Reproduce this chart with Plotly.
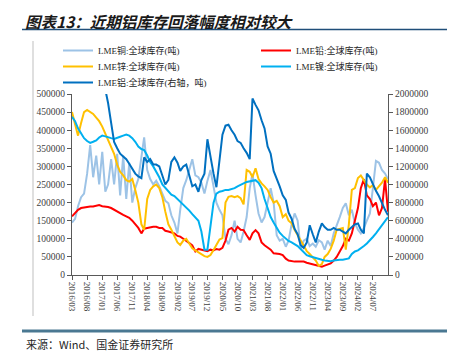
import pandas as pd
import plotly.graph_objects as go

months = pd.date_range("2016-03-01", periods=106, freq="MS")

tick_labels = ["2016/03", "2016/08", "2017/01", "2017/06", "2017/11", "2018/04", "2018/09",
               "2019/02", "2019/07", "2019/12", "2020/05", "2020/10", "2021/03", "2021/08",
               "2022/01", "2022/06", "2022/11", "2023/04", "2023/09", "2024/02", "2024/07"]

# LME copper stocks (thousand t, left axis)
copper = [145, 155, 190, 215, 225, 280, 359, 270, 330, 250, 340, 230, 250, 320, 250, 335, 220, 330, 210, 310, 200, 240, 265, 330, 380, 290,
          265, 250, 260, 245, 225, 205, 198, 165, 145, 115, 180, 240, 262, 290, 320, 275, 270, 255, 225, 260, 290, 245, 200, 180, 165,
          100, 85, 110, 150, 100, 90, 120, 160, 240, 280, 220, 170, 145, 160, 200, 240, 200, 110, 95, 100, 78, 95, 140, 170, 150,
          72, 95, 100, 80, 87, 78, 96, 90, 70, 95, 80, 115, 135, 160, 185, 198, 165, 180, 143, 125, 115, 130, 150, 170, 240, 315, 310, 290, 280, 265]

# LME lead stocks (thousand t, left axis)
lead = [162, 172, 180, 185, 187, 188, 189, 189, 190, 193, 190, 190, 188, 185, 180, 176, 172, 166, 162, 158, 150, 140, 130, 115, 128, 130,
        132, 133, 133, 130, 130, 122, 120, 118, 115, 108, 106, 100, 95, 88, 82, 65, 72, 70, 68, 66, 70, 68, 72, 70, 75,
        95, 125, 130, 120, 133, 125, 124, 110, 97, 115, 124, 115, 90, 82, 75, 70, 60, 60, 58, 55, 45, 40, 38, 37, 37,
        37, 37, 34, 32, 30, 28, 26, 23, 26, 30, 32, 40, 50, 65, 80, 100, 95, 115, 150, 185, 240, 265, 220, 210, 190, 200, 165, 185, 265, 175]

# LME zinc stocks (thousand t, left axis)
zinc = [450, 420, 385, 420, 450, 456, 450, 445, 435, 425, 410, 390, 375, 355, 335, 305, 285, 275, 262, 258, 265, 235, 200, 140, 125, 210,
        235, 245, 250, 240, 215, 175, 140, 125, 105, 90, 83, 95, 100, 88, 74, 68, 62, 58, 52, 50, 55, 69, 85, 98, 102,
        200, 216, 218, 215, 218, 212, 195, 290, 285, 270, 295, 265, 253, 245, 235, 215, 200, 205, 190, 160, 168, 150, 143, 125, 110,
        92, 78, 66, 58, 48, 40, 25, 30, 50, 58, 72, 95, 125, 128, 130, 70, 140, 235, 240, 268, 275, 262, 250, 242, 248, 235, 245, 255, 270, 255]

# LME nickel stocks (thousand t, left axis)
nickel = [437, 425, 405, 390, 378, 370, 365, 368, 372, 380, 385, 383, 380, 378, 376, 380, 382, 385, 388, 385, 378, 368, 355, 348, 345, 330,
          312, 300, 285, 270, 250, 240, 232, 222, 218, 210, 200, 192, 185, 178, 168, 158, 150, 120, 70, 70, 140, 200, 225, 230, 232,
          235, 235, 237, 240, 245, 250, 253, 257, 258, 260, 262, 255, 240, 210, 185, 160, 145, 130, 117, 108, 100, 94, 90, 85, 80,
          72, 62, 55, 52, 50, 47, 45, 42, 40, 38, 38, 40, 42, 42, 42, 44, 46, 58, 65, 68, 73, 80, 87, 95, 105, 115, 127, 135, 148, 160]

# LME aluminium stocks (thousand t, right axis)
aluminium = [2650, 2600, 2550, 2500, 2450, 2400, 2350, 2300, 2250, 2200, 2150, 2050,
             1900, 1680, 1470, 1400, 1340, 1310, 1280, 1230, 1180, 1120, 1090, 1070, 1300, 1250,
             1280, 1220, 1220, 1200, 1100, 1000, 1050, 1250, 1300, 1240, 1150, 1200, 1220, 1100, 980, 1000, 920, 1050, 1120, 1500, 1300, 1120, 970, 1250, 1550,
             1650, 1660, 1600, 1550, 1480, 1460, 1400, 1350, 1280, 1950, 1880, 1820, 1710, 1620, 1420, 1340, 1150, 1070, 980, 880, 830, 690, 620, 510, 450,
             330, 300, 360, 550, 450, 360, 480, 570, 530, 500, 500, 520, 500, 500, 480, 460, 500, 530, 560, 570, 500, 460, 1120, 1080, 1000, 930, 870, 790, 720, 660]

# (name, values, colour, axis, legend column, legend row)
series = [
    ("LME铜:全球库存(吨)", copper, "#9DC3E6", "y", 0, 0),
    ("LME铅:全球库存(吨)", lead, "#FF0000", "y", 1, 0),
    ("LME锌:全球库存(吨)", zinc, "#FFC000", "y", 0, 1),
    ("LME镍:全球库存(吨)", nickel, "#00B0F0", "y", 1, 1),
    ("LME铝:全球库存(右轴，吨)", aluminium, "#0070C0", "y2", 0, 2),
]

# page body has an 8px margin: work in screen pixels and convert
OFF = 8
FW, FH = 455 - OFF, 359 - OFF
L, R, T, B = 72 - OFF, 388 - OFF, 94 - OFF, 275 - OFF
W, H = R - L, B - T
def px(sx):
    return (sx - OFF - L) / W
def py(sy):
    return (B - (sy - OFF)) / H

axis_font = dict(family="Liberation Serif, Noto Sans CJK SC", size=9.5, color="#404040")
legend_font = dict(family="Liberation Serif, Noto Sans CJK SC", size=9, color="#262626")

fig = go.Figure()
legends = {}
for i, (name, vals, color, ax, col, row) in enumerate(series):
    lg = "legend" if i == 0 else f"legend{i + 1}"
    fig.add_trace(go.Scatter(x=months, y=[v * 1000 for v in vals], name=name, mode="lines",
                             line=dict(color=color, width=2), yaxis=ax, legend=lg))
    legends[lg] = dict(orientation="v", x=px(58 + 198 * col), y=py(36 + 16 * row),
                       xanchor="left", yanchor="top", font=legend_font,
                       bgcolor="rgba(0,0,0,0)", itemwidth=30)

tick_vals = [pd.Timestamp(t.replace("/", "-") + "-01") for t in tick_labels]

fig.update_layout(
    width=FW, height=FH,
    margin=dict(l=L, r=FW - R, t=T, b=FH - B, pad=0, autoexpand=False),
    paper_bgcolor="white", plot_bgcolor="white",
    showlegend=True,
    xaxis=dict(type="date", range=[months[0], months[-1]], tickvals=tick_vals, ticktext=tick_labels,
               tickangle=90, ticks="outside", ticklen=4, tickcolor="#595959",
               showline=True, linecolor="#595959", linewidth=1, showgrid=False, zeroline=False,
               tickfont=dict(family="Liberation Serif, Noto Sans CJK SC", size=9, color="#404040")),
    yaxis=dict(range=[0, 500000], dtick=50000, tickformat="d", ticks="outside", ticklen=4,
               tickcolor="#595959", showline=True, linecolor="#595959", linewidth=1,
               showgrid=False, zeroline=False, tickfont=axis_font),
    yaxis2=dict(range=[0, 2000000], dtick=200000, tickformat="d", overlaying="y", side="right",
                ticks="outside", ticklen=4, tickcolor="#595959", showline=True, linecolor="#595959",
                linewidth=1, showgrid=False, zeroline=False, tickfont=axis_font),
    shapes=[
        dict(type="line", xref="paper", yref="paper", x0=px(22), x1=px(460), y0=py(29.5), y1=py(29.5),
             line=dict(color="#1F4E79", width=1.5)),
        dict(type="line", xref="paper", yref="paper", x0=px(22), x1=px(460), y0=py(331), y1=py(331),
             line=dict(color="#4A7892", width=3)),
        dict(type="line", xref="paper", yref="paper", x0=px(33), x1=px(33), y0=py(41), y1=py(316),
             line=dict(color="#BFBFBF", width=1)),
    ],
    annotations=[
        dict(text="<b><i>图表13：近期铝库存回落幅度相对较大</i></b>", xref="paper", yref="paper",
             x=px(24), y=py(8.5), xanchor="left", yanchor="top", showarrow=False, borderpad=0,
             font=dict(family="Noto Sans CJK SC", size=15.5, color="#1a1a1a")),
        dict(text="来源：Wind、国金证券研究所", xref="paper", yref="paper",
             x=px(24), y=py(344), xanchor="left", yanchor="middle", showarrow=False,
             font=dict(family="Noto Sans CJK SC", size=11, color="#262626")),
    ],
)
fig.update_layout(**legends)

fig.write_html("out.html")
